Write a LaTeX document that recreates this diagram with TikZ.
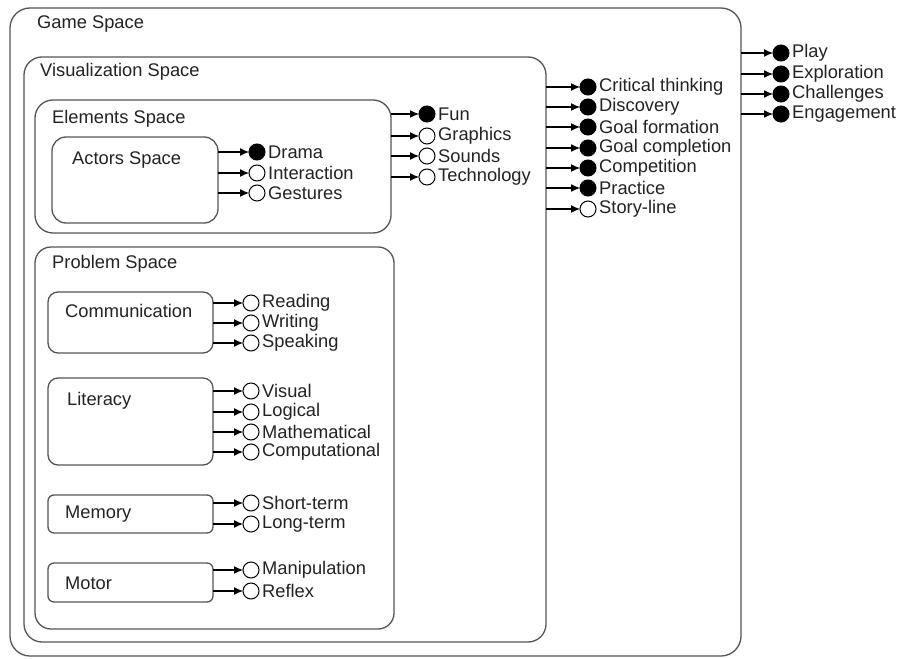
\documentclass[tikz,border=0pt]{standalone}
\usepackage{fontspec}
\setmainfont{Liberation Sans}
\usetikzlibrary{arrows.meta}
\definecolor{boxgray}{HTML}{555555}
\definecolor{txt}{HTML}{222222}
\tikzset{
  box/.style={draw=boxgray, line width=1.3pt, outer sep=0pt, inner sep=0pt, anchor=north west},
  ttl/.style={anchor=west, inner sep=0pt, text=txt, font=\fontsize{18.3}{20}\selectfont},
  lbl/.style={anchor=west, inner sep=0pt, text=txt, font=\fontsize{18.3}{20}\selectfont},
  dot/.style={circle, draw=black, line width=1pt, minimum size=16pt, inner sep=0pt, outer sep=0pt},
  on/.style={dot, fill=black},
  off/.style={dot, fill=white},
  conn/.style={draw=black, line width=1.1pt, -{Latex[length=9pt,width=8pt]}},
}
\begin{document}
\begin{tikzpicture}[x=1pt,y=-1pt]
\useasboundingbox (0,0) rectangle (901,658);
% boxes
\node[box, rounded corners=20pt, minimum width=731pt, minimum height=648pt] (game) at (10,8) {};
\node[box, rounded corners=18pt, minimum width=522pt, minimum height=585pt] (vis) at (24,57) {};
\node[box, rounded corners=18pt, minimum width=356pt, minimum height=133pt] (elem) at (35,100) {};
\node[box, rounded corners=14pt, minimum width=166pt, minimum height=86pt] (actors) at (52,137) {};
\node[box, rounded corners=16pt, minimum width=359pt, minimum height=382pt] (prob) at (35,247) {};
\node[box, rounded corners=10pt, minimum width=165pt, minimum height=61pt] (comm) at (48,292) {};
\node[box, rounded corners=10pt, minimum width=165pt, minimum height=87pt] (lit) at (48,378) {};
\node[box, rounded corners=6pt, minimum width=165pt, minimum height=38pt] (mem) at (48,495) {};
\node[box, rounded corners=6pt, minimum width=165pt, minimum height=39pt] (mot) at (48,563) {};
% titles
\node[ttl] (game-t) at (37,24) {Game Space};
\node[ttl] (vis-t) at (40,72) {Visualization Space};
\node[ttl] (elem-t) at (52,119) {Elements Space};
\node[ttl] (actors-t) at (72,160) {Actors Space};
\node[ttl] (prob-t) at (52,264) {Problem Space};
\node[ttl] (comm-t) at (65,311) {Communication};
\node[ttl] (lit-t) at (67,401) {Literacy};
\node[ttl] (mem-t) at (65,514) {Memory};
\node[ttl] (mot-t) at (65,583) {Motor};
% leaves
\foreach \src/\cx/\n/\y/\f/\t in {
  game/781/pl/53/on/Play,
  game/781/ex/74/on/Exploration,
  game/781/ch/94/on/Challenges,
  game/781/en/114/on/Engagement,
  vis/588/ct/87/on/Critical thinking,
  vis/588/di/107/on/Discovery,
  vis/588/gf/127/on/Goal formation,
  vis/588/gc/148/on/Goal completion,
  vis/588/co/168/on/Competition,
  vis/588/pr/188/on/Practice,
  vis/588/sl/209/off/Story-line,
  elem/427/fu/114/on/Fun,
  elem/427/gr/136/off/Graphics,
  elem/427/so/156/off/Sounds,
  elem/427/te/177/off/Technology,
  actors/257/dr/152/on/Drama,
  actors/257/in/173/off/Interaction,
  actors/257/ge/193/off/Gestures,
  comm/251/re/303/off/Reading,
  comm/251/wr/323/off/Writing,
  comm/251/sp/343/off/Speaking,
  lit/251/vi/391/off/Visual,
  lit/251/lo/412/off/Logical,
  lit/251/ma/432/off/Mathematical,
  lit/251/cp/452/off/Computational,
  mem/251/st/503/off/Short-term,
  mem/251/lt/524/off/Long-term,
  mot/251/mn/570/off/Manipulation,
  mot/251/rf/591/off/Reflex}{
  \node[\f] (c-\n) at (\cx,\y) {};
  \node[lbl] (t-\n) at ([xshift=3pt]c-\n.east) {\t};
  \draw[conn] (\src.east |- c-\n) -- (c-\n.west);
}
\end{tikzpicture}
\end{document}
